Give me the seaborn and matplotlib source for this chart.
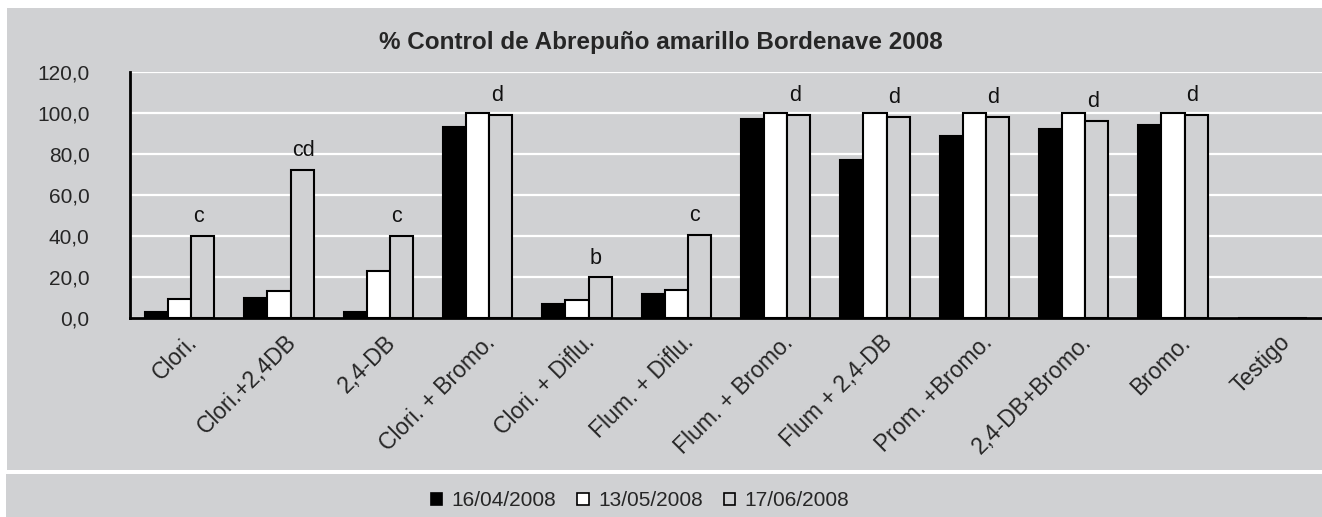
import matplotlib
matplotlib.use('Agg')
import matplotlib.pyplot as plt
import matplotlib.transforms as mtransforms
import seaborn as sns
import pandas as pd
from matplotlib.patches import Rectangle, Patch

categories = ["Clori.", "Clori.+2,4DB", "2,4-DB", "Clori. + Bromo.", "Clori. + Diflu.",
              "Flum. + Diflu.", "Flum. + Bromo.", "Flum + 2,4-DB", "Prom. +Bromo.",
              "2,4-DB+Bromo.", "Bromo.", "Testigo"]
dates = ["16/04/2008", "13/05/2008", "17/06/2008"]
v_1604 = [3.2, 10.0, 3.2, 93.2, 7.0, 11.7, 97.1, 77.0, 88.6, 92.3, 94.2, 0.0]
v_1305 = [9.4, 13.4, 23.0, 100.0, 8.9, 13.6, 100.0, 100.0, 100.0, 100.0, 100.0, 0.0]
v_1706 = [40.2, 72.0, 40.2, 98.8, 19.9, 40.4, 99.0, 97.8, 97.8, 96.0, 99.0, 0.0]
letters = ["c", "cd", "c", "d", "b", "c", "d", "d", "d", "d", "d", ""]
yticks = [0, 20, 40, 60, 80, 100, 120]
title = "% Control de Abrepuño amarillo Bordenave 2008"

GRAY = '#d0d1d3'
colors = ['#000000', '#ffffff', GRAY]

rows = []
for d, vals in zip(dates, [v_1604, v_1305, v_1706]):
    for c, v in zip(categories, vals):
        rows.append({"Tratamiento": c, "Fecha": d, "Valor": v})
df = pd.DataFrame(rows)

sns.set_style("white")
plt.rcParams['font.family'] = ['Liberation Sans', 'DejaVu Sans']

W, H = 1322, 517
fig = plt.figure(figsize=(W / 100, H / 100), dpi=100, facecolor='white')
fig.patches.append(Rectangle((7 / W, 1 - 470 / H), 1, (470 - 8) / H, transform=fig.transFigure,
                             facecolor=GRAY, edgecolor='none', zorder=-10))
fig.patches.append(Rectangle((6 / W, 0), 1, (517 - 474) / H, transform=fig.transFigure,
                             facecolor=GRAY, edgecolor='none', zorder=-10))

ax = fig.add_axes([130 / W, 1 - 318.3 / H, (W - 130) / W, (318.3 - 71.7) / H])
ax.set_facecolor(GRAY)

sns.barplot(data=df, x="Tratamiento", y="Valor", hue="Fecha", order=categories,
            hue_order=dates, palette=colors, edgecolor='black', linewidth=1.5,
            width=0.7, ax=ax, zorder=3)

ax.set_ylim(0, 120)
ax.set_xlim(-0.5, len(categories) - 0.5)
ax.set_yticks(yticks)
ax.set_yticklabels([f"{v:.1f}".replace('.', ',') for v in yticks], fontsize=15)
ax.yaxis.grid(True, color='white', linewidth=1.6, zorder=0)
ax.set_axisbelow(True)
ax.set_xlabel("")
ax.set_ylabel("")

ax.set_xticks(range(len(categories)))
ax.set_xticklabels(categories, rotation=45, ha='right', rotation_mode='anchor', fontsize=16.5)
ax.tick_params(axis='x', which='major', length=0, pad=9)
shift = mtransforms.ScaledTranslation(6 / 100, 0, fig.dpi_scale_trans)
for lab in ax.get_xticklabels():
    lab.set_transform(lab.get_transform() + shift)
ax.set_xticks([i - 0.5 for i in range(len(categories) + 1)], minor=True)
ax.tick_params(axis='x', which='minor', length=8, width=2, color='black', direction='out')
ax.tick_params(axis='y', length=8, width=2, color='black', direction='out', pad=21)

for s in ['top', 'right']:
    ax.spines[s].set_visible(False)
for s in ['left', 'bottom']:
    ax.spines[s].set_color('black')
    ax.spines[s].set_linewidth(2)
    ax.spines[s].set_zorder(5)

for p, lab in zip(ax.containers[2], letters):
    if lab:
        ax.annotate(lab, (p.get_x(), p.get_height()), xytext=(1, 10),
                    textcoords='offset points', ha='left', va='baseline',
                    fontsize=15.5, color='#111111')

leg = ax.get_legend()
if leg is not None:
    leg.remove()
handles = [Patch(facecolor=c, edgecolor='black', linewidth=1.2) for c in colors]
fig.legend(handles, dates, loc='center', bbox_to_anchor=(640 / W, 1 - 501 / H), ncol=3,
           frameon=False, fontsize=15, handlelength=0.55, handleheight=0.55,
           handletextpad=0.45, columnspacing=1.0)

fig.text(0.5, 1 - 43 / H, title, ha='center', va='center', fontsize=17.5, fontweight='bold')

fig.savefig("out.png", dpi=100, facecolor='white')
